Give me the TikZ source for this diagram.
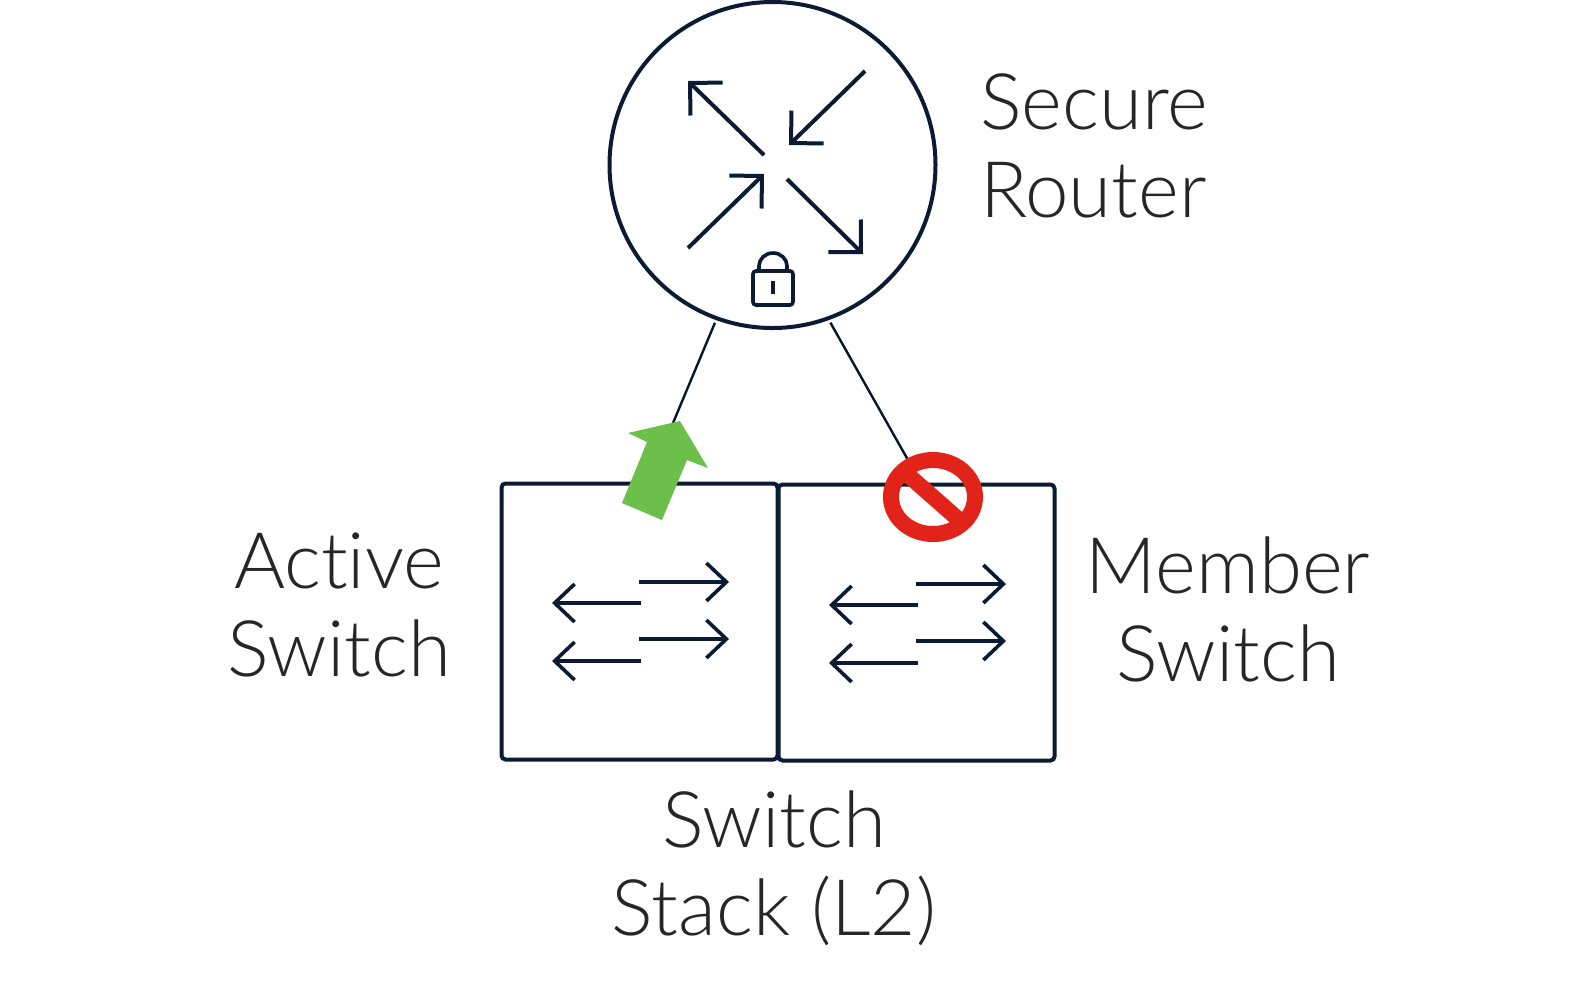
\documentclass[tikz,border=0pt]{standalone}
\usepackage{fontspec}
\setmainfont[Ligatures=NoCommon]{Lato Light}
\usetikzlibrary{arrows.meta,positioning}
\definecolor{navy}{HTML}{0A1B33}
\definecolor{okgreen}{HTML}{6CBF4B}
\definecolor{stopred}{HTML}{E2231A}
\tikzset{
    label text/.style={font=\fontsize{39}{44}\selectfont,text=black!85,align=center,inner sep=0pt},
    bigarrow/.style={navy,line width=2pt,-{Straight Barb[length=11.5pt,width=23pt]}},
    smallarrow/.style={navy,line width=1.8pt,-{Straight Barb[length=10pt,width=19pt]}},
    stackbox/.style={draw=navy,line width=2pt,rounded corners=2pt,minimum size=138pt,inner sep=0pt},
    linkline/.style={navy!80!black,line width=1.2pt,shorten <=1.5pt}
}
\begin{document}
\begin{tikzpicture}[x=0.5pt,y=-0.5pt]
    \useasboundingbox (0,0) rectangle (1569,993);

    \node (router) [circle,draw=navy,line width=2pt,minimum size=163pt,inner sep=0pt] at (772.5,165) {};
    \node (active) [stackbox] at (639.5,621.5) {};
    \node (member) [stackbox] at (916.5,622.5) {};

    \node (secure) [label text,align=left,anchor=west] at (980,146) {Secure\\Router};
    \node (activetext) [label text] at (339,605) {Active\\Switch};
    \node (membertext) [label text] at (1228,609) {Member\\Switch};
    \node (stacktext) [label text] at (774,868) {Switch\\Stack (L2)};

    % router arrows
    \draw [bigarrow] (764,155) -- (688,81);
    \draw [bigarrow] (865,71) -- (789,145);
    \draw [bigarrow] (688,248) -- (764,174);
    \draw [bigarrow] (787,179) -- (863,254);

    % lock
    \draw [navy,line width=1.8pt,rounded corners=1.5pt] (753,271) rectangle (793,305);
    \draw [navy,line width=1.8pt] (759,271) -- (759,266) arc[start angle=180,end angle=360,x radius=14,y radius=13] -- (787,271);
    \draw [navy,line width=2pt] (773,281) -- (773,294);

    % links
    \coordinate (activeend) at (673,423);
    \coordinate (memberend) at (908,460);
    \draw [linkline] (router.250.5) -- (activeend);
    \draw [linkline] (router.-70.6) -- (memberend);

    % switch arrows
    \foreach \dx/\dy in {0/0,277/2}{
        \begin{scope}[shift={(\dx*0.5pt,-\dy*0.5pt)}]
            \draw [smallarrow] (639,582) -- (729,582);
            \draw [smallarrow] (639,639) -- (729,639);
            \draw [smallarrow] (641,603) -- (552,603);
            \draw [smallarrow] (641,661) -- (552,661);
        \end{scope}
    }

    % green arrow
    \fill [okgreen] (680,421) -- (708,468) -- (687,460) -- (662,520) -- (622,503) -- (647,442) -- (628,433) -- cycle;

    % stop sign
    \draw [stopred,line width=8pt] (933,497) ellipse [x radius=42,y radius=37];
    \draw [stopred,line width=8pt] (908,475) -- (958,519);
\end{tikzpicture}
\end{document}
